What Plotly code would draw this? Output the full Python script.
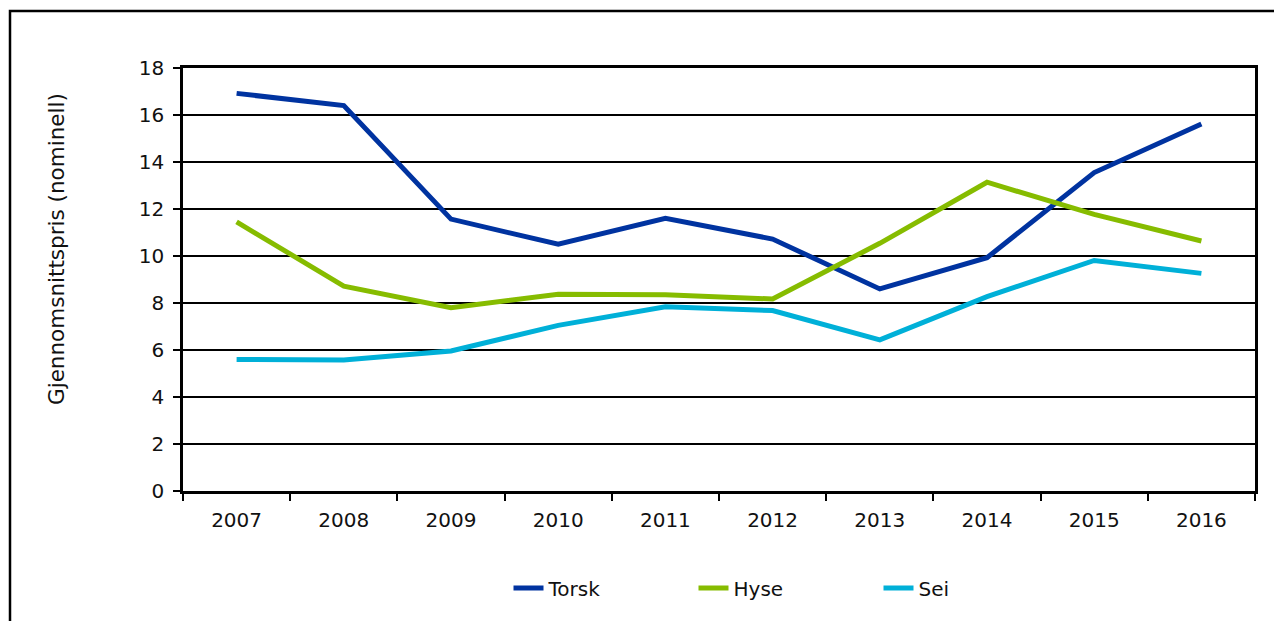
import plotly.graph_objects as go

years = ["2007", "2008", "2009", "2010", "2011", "2012", "2013", "2014", "2015", "2016"]
torsk = [16.92, 16.40, 11.57, 10.50, 11.60, 10.72, 8.60, 9.93, 13.55, 15.62]
hyse = [11.45, 8.72, 7.80, 8.37, 8.35, 8.17, 10.54, 13.14, 11.77, 10.64]
sei = [5.60, 5.57, 5.96, 7.05, 7.84, 7.68, 6.43, 8.27, 9.81, 9.26]
y_ticks = [0, 2, 4, 6, 8, 10, 12, 14, 16, 18]

series = [("Torsk", torsk, "#0033a0"), ("Hyse", hyse, "#86bc00"), ("Sei", sei, "#00b0d8")]

# page body has an 8px margin; the figure is sized so that it fills the window exactly
OFF = 8
W, H = 1282 - OFF, 621 - OFF
ML, MR, MT, MB = 183 - OFF, 27, 68 - OFF, 130
PW, PH = W - ML - MR, H - MT - MB


def px_x(x_page):
    return (x_page - OFF - ML) / PW


def px_y(y_page):
    return (H - MB - (y_page - OFF)) / PH


fig = go.Figure()
for name, vals, col in series:
    fig.add_trace(go.Scatter(x=years, y=vals, name=name, mode="lines",
                             line=dict(color=col, width=5)))

font = dict(family="DejaVu Sans, Verdana, sans-serif", size=20, color="#111111")

fig.update_layout(
    width=W, height=H,
    margin=dict(l=ML, r=MR, t=MT, b=MB),
    paper_bgcolor="white", plot_bgcolor="white",
    font=font,
    showlegend=True,
    legend=dict(orientation="h", x=0.5625, xanchor="center", y=px_y(588), yanchor="middle",
                entrywidth=140, font=font, bgcolor="rgba(0,0,0,0)"),
    xaxis=dict(type="category", range=[-0.5, 9.5], showline=True, linecolor="black",
               linewidth=2.5, mirror=True,
               ticks="outside", tickson="boundaries", ticklen=7, tickwidth=2, tickcolor="black",
               showgrid=False, ticklabelstandoff=9, tickfont=font),
    yaxis=dict(range=[0, 18], tickvals=y_ticks, showline=True, linecolor="black", linewidth=2.5,
               mirror=True, ticks="outside", ticklen=7, tickwidth=2, tickcolor="black",
               showgrid=True, gridcolor="black", gridwidth=1.5, zeroline=False,
               ticklabelstandoff=5, tickfont=font),
    annotations=[dict(text="Gjennomsnittspris (nominell)", xref="paper", yref="paper",
                      x=px_x(57), y=px_y(249), textangle=-90,
                      showarrow=False, font=dict(font, size=21.5),
                      xanchor="center", yanchor="middle")],
    shapes=[dict(type="rect", xref="paper", yref="paper",
                 x0=px_x(10), x1=px_x(1300),
                 y0=px_y(640), y1=px_y(11),
                 line=dict(color="black", width=2.5), fillcolor="rgba(0,0,0,0)", layer="below")],
)

fig.write_html("out.html")
